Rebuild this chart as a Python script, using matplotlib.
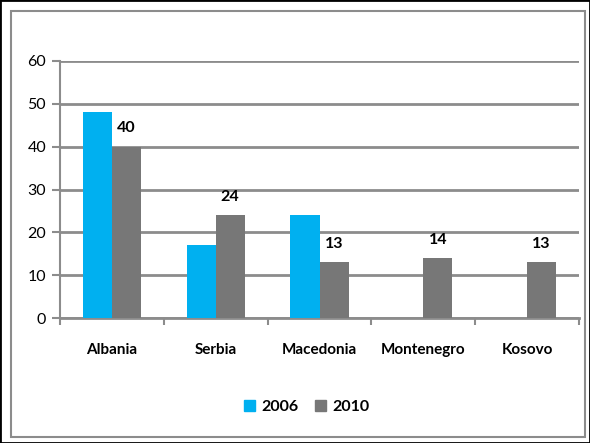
import matplotlib.pyplot as plt
from matplotlib.patches import Rectangle, Patch
import numpy as np

countries = ["Albania", "Serbia", "Macedonia", "Montenegro", "Kosovo"]
v2006 = [48, 17, 24, None, None]
v2010 = [40, 24, 13, 14, 13]
years = ["2006", "2010"]

plt.rcParams['font.family'] = ['Lato', 'DejaVu Sans']

fig = plt.figure(figsize=(5.9, 4.43), dpi=100)
fig.patches.append(Rectangle((0, 0), 1, 1, transform=fig.transFigure, fill=False, ec="black", lw=2))
fig.patches.append(Rectangle((11/590, 6/443), 574/590, 426/443, transform=fig.transFigure,
                             fill=False, ec="#8c8c8c", lw=1.5))

ax = fig.add_axes([60/590, 1-318/443, 519/590, 257/443])
x = np.arange(len(countries))
w = 0.28
blue, grey = "#00b0f0", "#777777"
for i in x:
    if v2006[i] is not None:
        ax.bar(i - w/2, v2006[i], w, color=blue, zorder=3)
    ax.bar(i + w/2, v2010[i], w, color=grey, zorder=3)
    ax.text(i + w/2, v2010[i] + 4.3, str(v2010[i]), ha="center", va="center",
            fontsize=11.5, fontweight="bold")

ax.set_xlim(-0.5, len(countries) - 0.5)
ax.set_ylim(0, 60)
ax.set_yticks(range(0, 61, 10))
ax.yaxis.grid(True, color="#8c8c8c", lw=2, zorder=0)
ax.set_axisbelow(True)
for s in ["top", "right"]:
    ax.spines[s].set_visible(False)
ax.spines["left"].set_color("#8c8c8c")
ax.spines["bottom"].set_color("#8c8c8c")
ax.spines["left"].set_linewidth(1.5)
ax.spines["bottom"].set_linewidth(2)
ax.tick_params(axis="y", length=6, width=1.5, color="#8c8c8c", labelsize=11.5, pad=4)
ax.set_xticks(x)
ax.set_xticklabels(countries, fontsize=11, fontweight="bold")
ax.tick_params(axis="x", which="major", length=0, pad=18)
ax.set_xticks(np.arange(-0.5, len(countries)), minor=True)
ax.tick_params(axis="x", which="minor", length=5, width=1.5, color="#8c8c8c")

handles = [Patch(color=blue, label=years[0]), Patch(color=grey, label=years[1])]
fig.legend(handles=handles, loc="center", bbox_to_anchor=(0.52, 0.081), ncol=2, frameon=False,
           prop={"weight": "bold", "size": 11.5}, handlelength=0.7, handleheight=0.7,
           handletextpad=0.4, columnspacing=1.0)

fig.savefig("out.png", dpi=100)
